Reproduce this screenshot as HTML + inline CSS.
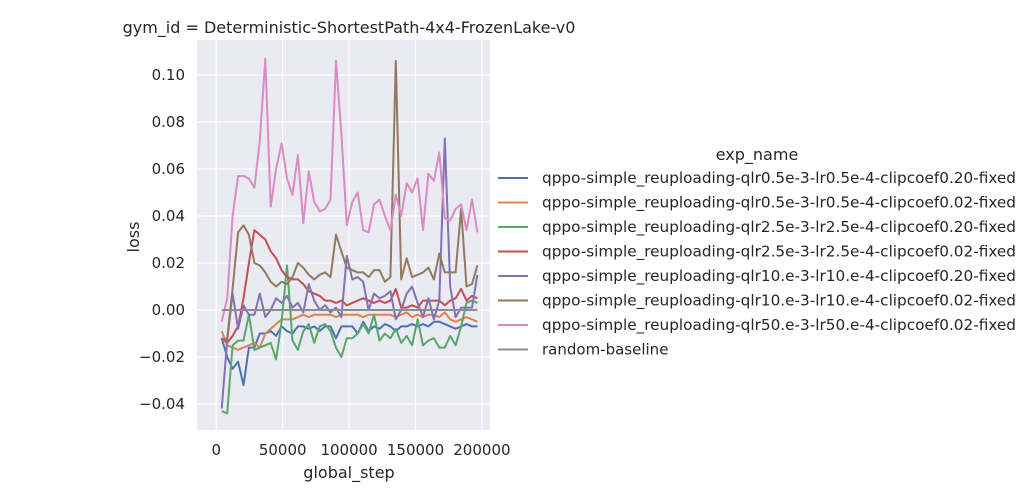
<!DOCTYPE html>
<html><head><meta charset="utf-8"><style>
body{margin:0;background:#fff;}
svg{display:block;font-family:"DejaVu Sans","Liberation Sans",sans-serif;}
</style></head><body>
<svg id="chart" width="1030" height="500">
<rect x="197" y="40" width="293" height="390" fill="#eaeaf2"/>
<g id="grid"></g><g id="lines"></g><g id="ticks"></g><g id="legend"></g>
<text x="349" y="33" text-anchor="middle" font-size="16" fill="#262626">gym_id = Deterministic-ShortestPath-4x4-FrozenLake-v0</text>
<text x="349" y="478" text-anchor="middle" font-size="16" fill="#262626">global_step</text>
<text x="139" y="237" text-anchor="middle" font-size="16" fill="#262626" transform="rotate(-90 139 237)">loss</text>
</svg>
<script>
const xTicks=[0,50000,100000,150000,200000];
const xTickLabels=["0","50000","100000","150000","200000"];
const yTicks=[-0.04,-0.02,0,0.02,0.04,0.06,0.08,0.10];
const yTickLabels=["−0.04","−0.02","0.00","0.02","0.04","0.06","0.08","0.10"];
const stepSize=4096;
const seriesNames=["qppo-simple_reuploading-qlr0.5e-3-lr0.5e-4-clipcoef0.20-fixed","qppo-simple_reuploading-qlr0.5e-3-lr0.5e-4-clipcoef0.02-fixed","qppo-simple_reuploading-qlr2.5e-3-lr2.5e-4-clipcoef0.20-fixed","qppo-simple_reuploading-qlr2.5e-3-lr2.5e-4-clipcoef0.02-fixed","qppo-simple_reuploading-qlr10.e-3-lr10.e-4-clipcoef0.20-fixed","qppo-simple_reuploading-qlr10.e-3-lr10.e-4-clipcoef0.02-fixed","qppo-simple_reuploading-qlr50.e-3-lr50.e-4-clipcoef0.02-fixed","random-baseline"];
const seriesColors=["#4c72b0","#dd8452","#55a868","#c44e52","#8172b3","#937860","#da8bc3","#8c8c8c"];
const blue=[-0.012,-0.020,-0.025,-0.022,-0.032,-0.016,-0.016,-0.010,-0.010,-0.009,-0.011,-0.007,-0.009,-0.010,-0.007,-0.007,-0.008,-0.007,-0.009,-0.007,-0.007,-0.012,-0.007,-0.007,-0.007,-0.010,-0.005,-0.009,-0.007,-0.008,-0.006,-0.007,-0.009,-0.007,-0.007,-0.006,-0.007,-0.006,-0.007,-0.005,-0.005,-0.006,-0.007,-0.008,-0.007,-0.006,-0.007,-0.007];
const orange=[-0.009,-0.015,-0.016,-0.017,-0.016,-0.015,-0.014,-0.016,-0.010,-0.008,-0.006,-0.004,-0.004,-0.004,-0.003,-0.002,-0.003,-0.002,-0.002,-0.002,-0.002,-0.003,-0.002,-0.002,-0.002,-0.002,-0.003,-0.002,-0.002,-0.002,-0.002,-0.002,-0.003,-0.002,-0.001,-0.003,-0.002,-0.003,-0.002,-0.002,-0.003,-0.001,-0.004,-0.005,-0.004,-0.003,-0.004,-0.005];
const green=[-0.043,-0.044,-0.015,-0.013,-0.013,-0.002,-0.017,-0.016,-0.015,-0.014,-0.021,-0.005,0.019,-0.013,-0.017,-0.009,-0.006,-0.014,-0.007,-0.006,-0.009,-0.016,-0.020,-0.012,-0.012,-0.010,-0.006,-0.010,-0.002,-0.013,-0.010,-0.012,-0.008,-0.014,-0.011,-0.015,-0.004,-0.015,-0.013,-0.012,-0.016,-0.016,-0.011,-0.015,-0.007,0.003,0.004,0.003];
const red=[-0.012,-0.014,-0.011,-0.007,0.005,0.020,0.034,0.032,0.030,0.025,0.022,0.017,0.014,0.013,0.013,0.011,0.008,0.007,0.006,0.004,0.004,0.003,0.004,0.002,0.003,0.004,0.005,0.004,0.003,0.004,0.003,0.004,0.009,0.001,0.001,0.002,0.001,0.004,0.004,0.004,0.004,0.002,0.004,0.005,0.009,0.004,0.006,0.005];
const purple=[-0.042,-0.013,0.007,-0.008,0.002,-0.002,-0.002,0.007,-0.003,0.000,0.005,0.003,0.006,0.001,0.003,-0.001,0.011,0.004,0.000,0.002,-0.001,0.001,-0.003,0.023,0.013,0.014,0.012,0.000,0.007,0.005,0.006,0.008,-0.004,0.000,0.007,0.010,0.003,-0.003,0.005,-0.004,0.004,0.073,0.010,-0.003,0.001,0.001,0.001,0.015];
const brown=[-0.013,-0.012,0.009,0.033,0.036,0.032,0.020,0.019,0.016,0.012,0.010,0.012,0.011,0.014,0.020,0.018,0.015,0.013,0.015,0.016,0.014,0.032,0.025,0.018,0.017,0.016,0.016,0.014,0.017,0.017,0.012,0.014,0.106,0.013,0.022,0.014,0.015,0.016,0.018,0.013,0.024,0.016,0.016,0.016,0.043,0.010,0.011,0.019];
const pink=[-0.005,0.005,0.040,0.057,0.057,0.056,0.052,0.072,0.107,0.044,0.060,0.071,0.056,0.049,0.066,0.037,0.059,0.046,0.042,0.043,0.047,0.106,0.075,0.036,0.046,0.050,0.034,0.033,0.045,0.047,0.040,0.034,0.049,0.040,0.054,0.050,0.056,0.034,0.058,0.055,0.067,0.039,0.038,0.043,0.045,0.034,0.047,0.033];
const baseline=Array(48).fill(0);
const seriesData=[blue,orange,green,red,purple,brown,pink,baseline];

const NS="http://www.w3.org/2000/svg";
const X=v=>216.3+v*66.4/50000;
const Y=v=>310-v*2350;
function mk(tag,attrs,parent){const e=document.createElementNS(NS,tag);for(const k in attrs)e.setAttribute(k,attrs[k]);parent.appendChild(e);return e;}
const grid=document.getElementById('grid'),ticks=document.getElementById('ticks'),lines=document.getElementById('lines'),legend=document.getElementById('legend');
xTicks.forEach((t,i)=>{
  const g=mk('line',{x1:X(t),x2:X(t),y1:40,y2:430,stroke:'#fff','stroke-width':1.2},grid);
  
  
  const tx=mk('text',{x:X(t),y:455,'text-anchor':'middle','font-size':15,fill:'#262626'},ticks);
  tx.textContent=xTickLabels[i];
  
  
});
yTicks.forEach((t,i)=>{
  const g=mk('line',{x1:197,x2:490,y1:Y(t),y2:Y(t),stroke:'#fff','stroke-width':1.2},grid);
  
  
  const tx=mk('text',{x:185,y:Y(t)+5,'text-anchor':'end','font-size':15,fill:'#262626'},ticks);
  tx.textContent=yTickLabels[i];
  
  
});
seriesData.forEach((arr,s)=>{
  const pts=arr.map((v,i)=>X(stepSize*(i+1)).toFixed(1)+','+Y(v).toFixed(1)).join(' ');
  const p=mk('polyline',{points:pts,fill:'none',stroke:seriesColors[s],'stroke-width':2,'stroke-linejoin':'round'},lines);
  
  
});
const lt=mk('text',{x:757,y:160,'text-anchor':'middle','font-size':16,fill:'#262626'},legend);
lt.textContent='exp_name';


seriesNames.forEach((n,s)=>{
  const y=178+s*24.5;
  const l=mk('line',{x1:498,x2:528,y1:y,y2:y,stroke:seriesColors[s],'stroke-width':2},legend);
  
  
  const t=mk('text',{x:542,y:y+5,'font-size':15,fill:'#262626',textLength:474,lengthAdjust:'spacingAndGlyphs'},legend);
  if(n==='random-baseline') t.removeAttribute('textLength');
  t.textContent=n;
  
  
});
</script>
</body></html>
